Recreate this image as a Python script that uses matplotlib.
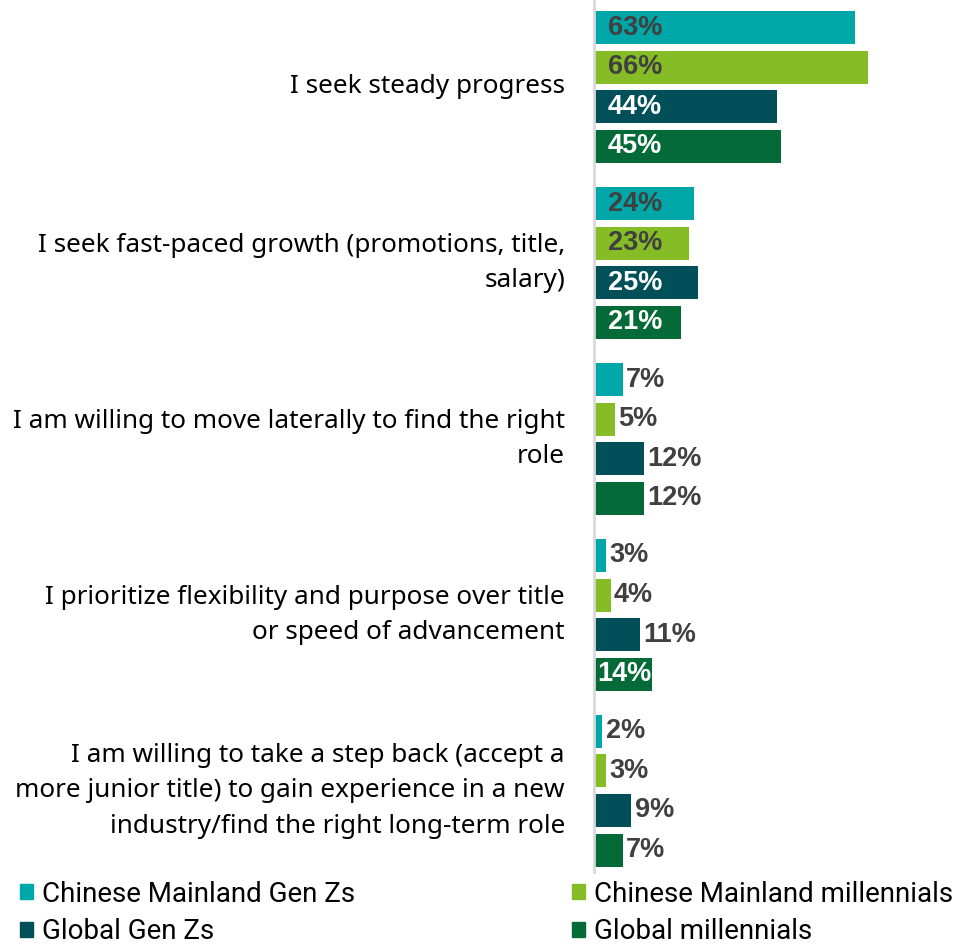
import numpy as np
import matplotlib.pyplot as plt
from matplotlib.patches import Patch
from matplotlib.transforms import blended_transform_factory

# survey answers, share of respondents (%)
categories = [
    'I seek steady progress',
    'I seek fast-paced growth (promotions, title,\nsalary)',
    'I am willing to move laterally to find the right\nrole',
    'I prioritize flexibility and purpose over title\nor speed of advancement',
    'I am willing to take a step back (accept a\nmore junior title) to gain experience in a new\nindustry/find the right long-term role',
]
series_names = ['Chinese Mainland Gen Zs', 'Chinese Mainland millennials',
                'Global Gen Zs', 'Global millennials']
cn_genz = [63, 24, 7, 3, 2]
cn_mill = [66, 23, 5, 4, 3]
gl_genz = [44, 25, 12, 11, 9]
gl_mill = [45, 21, 12, 14, 7]

colors = ['#00A7A9', '#86BC25', '#004F59', '#046A38']
label_colors = ['#404040', '#404040', 'white', 'white']

label_font = 'Noto Sans'
value_font = 'Liberation Sans'

fig = plt.figure(figsize=(9.69, 9.48), dpi=100)
ax = fig.add_axes([0.613, 0.080, 0.387, 0.920])

all_series = [cn_genz, cn_mill, gl_genz, gl_mill]
group_gap = 4.45
bar_h = 0.835

for j, vals in enumerate(all_series):
    ys = np.arange(len(categories)) * group_gap + j
    ax.barh(ys, vals, height=bar_h, color=colors[j], label=series_names[j])
    for y, v in zip(ys, vals):
        if v >= 20:
            ax.text(3.3, y, f'{v}%', va='center', ha='left', fontsize=19.5,
                    fontweight='bold', color=label_colors[j], family=value_font)
        elif v >= 14:
            ax.text(0.9, y, f'{v}%', va='center', ha='left', fontsize=19.5,
                    fontweight='bold', color=label_colors[j], family=value_font)
        else:
            ax.text(v + 0.8, y, f'{v}%', va='center', ha='left', fontsize=19.5,
                    fontweight='bold', color='#404040', family=value_font)

ax.set_xlim(0, 90.4)
ax.set_ylim(21.36, -0.70)
ax.set_xticks([])
ax.set_yticks([])
for s in ['top', 'right', 'bottom']:
    ax.spines[s].set_visible(False)
ax.spines['left'].set_color('#D9D9D9')
ax.spines['left'].set_linewidth(2)

# category labels to the left of the axis line
trans = blended_transform_factory(fig.transFigure, ax.transData)
for i, cat in enumerate(categories):
    yc = i * group_gap + 1.5
    fig.text(0.583, 0, cat, transform=trans, ha='right', va='center',
             fontsize=18.8, family=label_font, linespacing=1.55,
             color='black').set_y(yc)

# legend in two columns under the chart
handles = [Patch(color=c) for c in colors]
leg_kw = dict(frameon=False, handlelength=0.47, handleheight=0.47,
              handletextpad=0.32, labelspacing=0.38, borderaxespad=0,
              prop={'family': 'Roboto', 'size': 20})
leg1 = fig.legend([handles[0], handles[2]], [series_names[0], series_names[2]],
                  loc='center left', bbox_to_anchor=(0.0093, 0.037), **leg_kw)
leg2 = fig.legend([handles[1], handles[3]], [series_names[1], series_names[3]],
                  loc='center left', bbox_to_anchor=(0.579, 0.037), **leg_kw)

fig.savefig('out.png', dpi=100)
